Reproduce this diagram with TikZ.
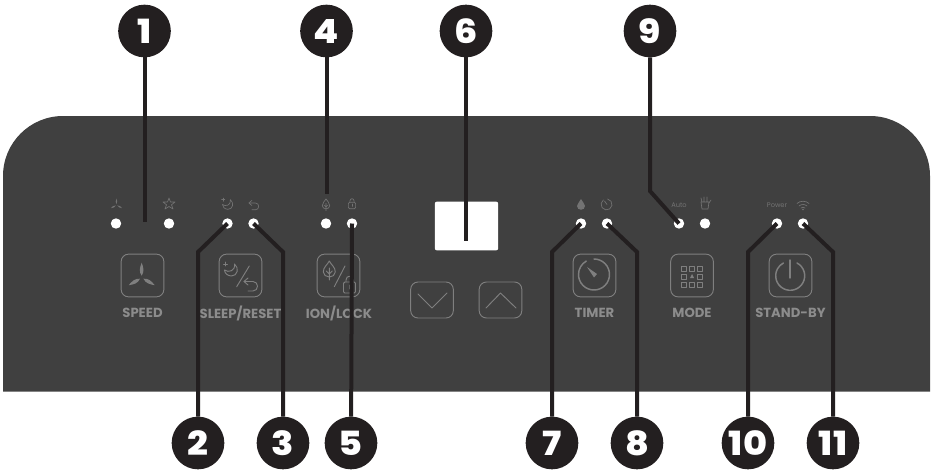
\documentclass[tikz,border=0pt]{standalone}
\usepackage{fontspec}
\setmainfont{Poppins}
\newfontfamily\numfont[FakeStretch=1.1]{Poppins ExtraBold}
\usepackage{tikz}
\usetikzlibrary{positioning}
\definecolor{panelc}{HTML}{404040}
\definecolor{inkc}{HTML}{231F20}
\definecolor{iconc}{HTML}{7F7F7F}
\definecolor{dimc}{HTML}{737373}
\definecolor{labelc}{HTML}{8C8C8C}
\newcommand{\bladepath}{(0,-2) .. controls (3,-6) and (1.5,-11) .. (0,-15) .. controls (-2,-10) and (-3,-6) .. cycle}
\tikzset{
  fan/.pic={
    \fill \bladepath;
    \fill[rotate=120] \bladepath;
    \fill[rotate=240] \bladepath;
  },
  moon/.pic={
    \draw (3,-6) .. controls (8,-2) and (6,6) .. (0,6) .. controls (-4,6) and (-7,3) .. (-7,0)
      .. controls (-3,3) and (4,1) .. cycle;
    \draw (-6,-8) -- (-6,-4) (-8,-6) -- (-4,-6);
  },
  back/.pic={
    \draw (-3,-7) -- (-7,-3.5) -- (-3,0);
    \draw (-7,-3.5) -- (2,-3.5) .. controls (8,-3.5) and (8,6) .. (2,6) -- (-3,6);
  },
  leaf/.pic={
    \draw (0,-9) .. controls (2,-5) and (6,-3) .. (6,2) .. controls (6,5) and (3,7) .. (0,7)
      .. controls (-3,7) and (-6,5) .. (-6,2) .. controls (-6,-3) and (-2,-5) .. cycle;
    \draw (0,-2) -- (0,10) (-3,1) -- (0,4) -- (3,1);
  },
  padlock/.pic={
    \draw[rounded corners=1pt] (-6,-3) rectangle (6,8);
    \draw (-3.5,-3) -- (-3.5,-5) .. controls (-3.5,-10) and (3.5,-10) .. (3.5,-5) -- (3.5,-3);
    \draw (0,0) -- (0,4);
  },
  blank/.style={inner sep=0pt, outer sep=0pt},
  led/.style={blank, circle, fill=white, minimum size=7.8pt},
  num/.style={blank, circle, fill=inkc, minimum size=39.5pt, text=white, font=\numfont\fontsize{25}{25}\selectfont},
  btn/.style={blank, draw=iconc, line width=.7pt, rounded corners=5.5pt, minimum size=32pt},
  arrowbtn/.style={btn, minimum width=32pt, minimum height=27pt},
  caption/.style={blank, text=labelc, font=\bfseries\fontsize{9.9}{10}\selectfont},
  tiny/.style={blank, text=dimc, font=\fontsize{5}{5}\selectfont},
  stroke/.style={draw=iconc, line width=.7pt, line cap=round, line join=round},
  heavy stroke/.style={draw=iconc, line width=1.1pt, line cap=round, line join=round},
  thin stroke/.style={draw=dimc, line width=.5pt, line cap=round, line join=round},
  lead/.style={draw=inkc, line width=3pt, line join=miter}
}
\begin{document}
\begin{tikzpicture}[x=.75pt, y=-.75pt]
  \useasboundingbox (0,0) rectangle (935,471);
  \fill[panelc] (3,391.5) [rounded corners=45pt] -- (3,116) -- (930,116) [sharp corners] -- (930,391.5) -- cycle;

  % small icons above the lamps
  \path[fill=dimc] (116.5,205) pic[scale=.42] {fan};
  \draw[thin stroke] (169,198) -- (170.5,202) -- (175,202) -- (171.5,204.8) -- (173,209) -- (169,206.5)
    -- (165,209) -- (166.5,204.8) -- (163,202) -- (167.5,202) -- cycle;
  \path[thin stroke] (228,204.5) pic[scale=.8] {moon};
  \path[thin stroke] (254,205.5) pic[scale=.72] {back};
  \path[thin stroke] (326,204.5) pic[scale=.62] {leaf};
  \path[thin stroke] (352,204) pic[scale=.6] {padlock};
  \fill[dimc] (581,199) .. controls (582,202) and (585,203.5) .. (585,206) .. controls (585,211) and (577,211) .. (577,206)
    .. controls (577,203.5) and (580,202) .. (581,199);
  \draw[thin stroke] (607.5,199) arc[start angle=-80, end angle=235, radius=5.5];
  \draw[thin stroke] (604.5,201) -- (607,204.5);
  \node[tiny] (autotext) at (679,205) {Auto};
  \draw[thin stroke] (701,202) -- (709,202) -- (708,209) -- (702,209) -- cycle (702,202) -- (701,198) (704,202) -- (704,197)
    (707,202) -- (707,197) (709,203) -- (711,200);
  \node[tiny] (powertext) at (777,205) {Power};
  \draw[thin stroke] (797,203.5) .. controls (800,200.5) and (806,200.5) .. (809,203.5);
  \draw[thin stroke] (799,206) .. controls (801,204) and (805,204) .. (807,206);
  \draw[thin stroke] (801,208) .. controls (802,207) and (804,207) .. (805,208);
  \fill[dimc] (803,209.5) circle (.8);

  % buttons
  \node[btn] (speed) at (142.5,275.5) {};
  \node[btn] (sleep) at (240.5,275.5) {};
  \node[btn] (ion) at (338.5,275.5) {};
  \node[arrowbtn] (down) at (432,300) {};
  \node[arrowbtn] (up) at (500.5,300) {};
  \node[btn] (timer) at (594.5,275.5) {};
  \node[btn] (mode) at (692,275.5) {};
  \node[btn] (standby) at (790.5,275.5) {};

  \path[fill=iconc] (141.7,277.7) pic {fan};
  \path[stroke] (231.5,270) pic {moon};
  \draw[stroke] (249.3,266) -- (236.7,286.7);
  \path[stroke] (251,285) pic {back};
  \path[stroke] (329.3,270) pic {leaf};
  \draw[stroke] (345,266) -- (334.3,286.7);
  \path[stroke] (349.5,285) pic {padlock};
  \draw[stroke] (418,294) -- (432,308) -- (447,293);
  \draw[stroke] (486,308) -- (500.5,293) -- (516,308);
  \draw[heavy stroke] (594,259) arc[start angle=-90, end angle=240, radius=15.5];
  \fill[iconc] (587,267) -- (597,274) -- (594,277.5) -- cycle;
  \draw[stroke] (681.5,266.5) rectangle (686.5,271.5) (689.5,266.5) rectangle (694.5,271.5) (697.5,266.5) rectangle (702.5,271.5)
    (681.5,274.5) rectangle (686.5,279.5) (697.5,274.5) rectangle (702.5,279.5)
    (681.5,282.5) rectangle (686.5,287.5) (689.5,282.5) rectangle (694.5,287.5) (697.5,282.5) rectangle (702.5,287.5);
  \fill[iconc] (692,274) -- (694,278) -- (690,278) -- cycle;
  \draw[heavy stroke] (797,263) arc[start angle=-62, end angle=242, radius=14.5];
  \draw[heavy stroke] (790,260) -- (790,278);

  % captions
  \node[caption] (speedtext) at (142.5,313) {SPEED};
  \node[caption] (sleeptext) at (240.5,313) {SLEEP/RESET};
  \node[caption] (iontext) at (339,313) {ION/LOCK};
  \node[caption] (timertext) at (594.5,313) {TIMER};
  \node[caption] (modetext) at (692,313) {MODE};
  \node[caption] (standbytext) at (790.5,313) {STAND-BY};

  % display and lamps
  \node[blank, fill=white, rounded corners=1.5pt, minimum width=47.5pt, minimum height=36.5pt] (display) at (466.5,226) {};
  \node[led] (led1a) at (116,223.5) {};
  \node[led] (led1b) at (169,223.5) {};
  \node[led] (led2) at (227.5,223.5) {};
  \node[led] (led3) at (253.5,223.5) {};
  \node[led] (led4) at (326,223.5) {};
  \node[led] (led5) at (352,223.5) {};
  \node[led] (led7) at (581,223.5) {};
  \node[led] (led8) at (607,223.5) {};
  \node[led] (led9) at (679,223.5) {};
  \node[led] (led9b) at (705,223.5) {};
  \node[led] (led10) at (777,223.5) {};
  \node[led] (led11) at (803,223.5) {};

  % numbered markers
  \node[num] (n1) at (144.5,31) {1};
  \node[num] (n4) at (326.5,31) {4};
  \node[num] (n6) at (466,31) {6};
  \node[num] (n9) at (650,31) {9};
  \node[num] (n2) at (198,443) {2};
  \node[num] (n3) at (283,443) {3};
  \node[num] (n5) at (351,443) {5};
  \node[num] (n7) at (552,443) {7};
  \node[num] (n8) at (637,443) {8};
  \node[num] (n10) at (748,443) {10};
  \node[num] (n11) at (833,443) {11};

  % connectors
  \coordinate (end1) at (144.5,222);
  \coordinate (end4) at (326.5,194);
  \coordinate (end6) at (466,241);
  \coordinate (bend9) at (650,191);
  \coordinate (bend2) at (198,252);
  \coordinate (bend3) at (283,252);
  \coordinate (bend7) at (552,252);
  \coordinate (bend8) at (637,252);
  \coordinate (bend10) at (748,252);
  \coordinate (bend11) at (833,252);
  \draw[lead] (n1) -- (end1);
  \draw[lead] (n4) -- (end4);
  \draw[lead] (n6) -- (end6);
  \draw[lead] (n9) -- (bend9) -- (led9.center);
  \draw[lead] (n2) -- (bend2) -- (led2.center);
  \draw[lead] (n3) -- (bend3) -- (led3.center);
  \draw[lead] (n5) -- (led5.center);
  \draw[lead] (n7) -- (bend7) -- (led7.center);
  \draw[lead] (n8) -- (bend8) -- (led8.center);
  \draw[lead] (n10) -- (bend10) -- (led10.center);
  \draw[lead] (n11) -- (bend11) -- (led11.center);
\end{tikzpicture}
\end{document}
